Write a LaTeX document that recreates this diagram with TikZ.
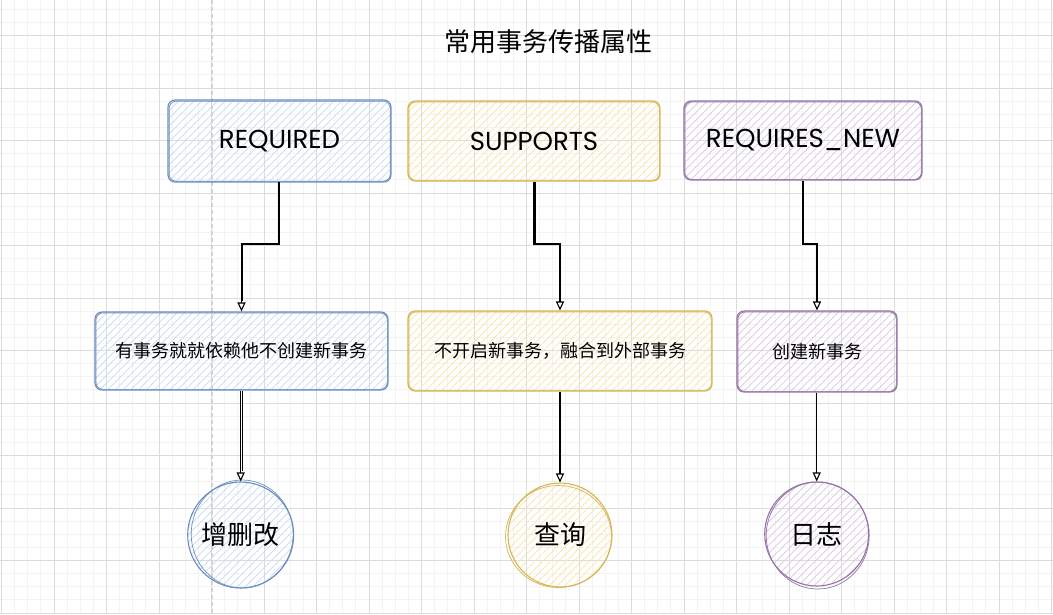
\documentclass[tikz,border=0pt]{standalone}
\usepackage{fontspec}
\setmainfont{Noto Sans CJK SC}
\newfontfamily\hand{Poppins}
\usetikzlibrary{arrows.meta,patterns.meta,calc}
\definecolor{bS}{HTML}{6C8EBF}\definecolor{bF}{HTML}{C6DAF6}
\definecolor{yS}{HTML}{D6B656}\definecolor{yF}{HTML}{FAE5A8}
\definecolor{pS}{HTML}{9673A6}\definecolor{pF}{HTML}{D8C6E2}
\definecolor{gmaj}{HTML}{DCDCDC}\definecolor{gmin}{HTML}{F3F3F3}
\definecolor{dashc}{HTML}{D2D2D2}
\tikzset{
  skbox/.style={rounded corners=7pt, line width=1.1pt, draw=#1S,
    pattern={Lines[angle=45,distance=5.5pt,line width=0.7pt]}, pattern color=#1F},
  skline/.style={rounded corners=7pt, line width=0.7pt, draw=#1S},
  skcirc/.style={circle, line width=1.1pt, draw=#1S, inner sep=0pt,
    pattern={Lines[angle=45,distance=5.5pt,line width=0.7pt]}, pattern color=#1F},
  lbl/.style={font=\fontsize{18}{20}\selectfont, text=black},
  eng/.style={font=\hand\fontsize{26}{28}\selectfont, text=black},
  big/.style={font=\fontsize{26}{28}\selectfont, text=black},
  arr/.style={line width=1.2pt, -{Triangle[open,length=9pt,width=8pt,line width=1.1pt]}},
  arr2/.style={line width=0.6pt},
}
\begin{document}
\begin{tikzpicture}[x=1pt,y=-1pt]
\useasboundingbox (0,0) rectangle (1053,614);
\fill[white] (0,0) rectangle (1053,614);
% grid
\foreach \i in {0,...,80} \draw[gmin, line width=0.9pt] ({1.5+\i*13.125},0) -- ({1.5+\i*13.125},614);
\foreach \i in {0,...,48} \draw[gmin, line width=0.9pt] (0,{-3.875+\i*13.125}) -- (1053,{-3.875+\i*13.125});
\foreach \i in {0,...,20} \draw[gmaj, line width=0.9pt] ({1.5+\i*52.5},0) -- ({1.5+\i*52.5},614);
\foreach \i in {0,...,11} \draw[gmaj, line width=0.9pt] (0,{35.5+\i*52.5}) -- (1053,{35.5+\i*52.5});
\draw[dashc, line width=2pt, dash pattern=on 4pt off 3pt] (212,0) -- (212,614);

% title
\node[big] (title) at (548,42) {常用事务传播属性};

% top boxes
\node[skbox=b, minimum width=223pt, minimum height=82pt, eng] (req) at (279.5,141) {REQUIRED};
\node[skbox=y, minimum width=252pt, minimum height=80pt, eng] (sup) at (534,141) {SUPPORTS};
\node[skbox=p, minimum width=238pt, minimum height=79pt, eng] (new) at (803,140.5) {REQUIRES\_NEW};
% middle boxes
\node[skbox=b, minimum width=293pt, minimum height=78pt, lbl] (m1) at (241.5,351) {有事务就就依赖他不创建新事务};
\node[skbox=y, minimum width=304pt, minimum height=80pt, lbl] (m2) at (560,351) {不开启新事务，融合到外部事务};
\node[skbox=p, minimum width=160pt, minimum height=81pt, lbl] (m3) at (817,351.5) {创建新事务};
% circles
\node[skcirc=b, minimum size=106pt, big] (c1) at (240.7,535) {增删改};
\node[skcirc=y, minimum size=104pt, big] (c2) at (560,535) {查询};
\node[skcirc=p, minimum size=104pt, big] (c3) at (816.7,534) {日志};

% sketchy second strokes
\foreach \n/\c in {req/b,sup/y,new/p,m1/b,m2/y,m3/p}
  \draw[skline=\c] ([shift={(1.5,-1.2)}]\n.south west) rectangle ([shift={(-1.2,1.5)}]\n.north east);
\draw[skline=b] ([shift={(1.5,-1)}]c1.center) circle[x radius=51, y radius=54];
\draw[skline=y] ([shift={(-1.5,1.5)}]c2.center) circle[x radius=53, y radius=51];
\draw[skline=p] ([shift={(1,1.5)}]c3.center) circle[x radius=51.5, y radius=53.5];

% connectors
\coordinate (ym) at (0,244);
\draw[arr] (req.south) -- (req.south |- ym) -| (m1.north);
\draw[arr] (sup.south) -- (sup.south |- ym) -| (m2.north);
\draw[arr] (new.south) -- (new.south |- ym) -| (m3.north);
\draw[arr2] ([xshift=-1.2pt]req.south) -- ([xshift=-1.2pt]req.south |- ym);
\draw[arr2] ([xshift=1.2pt]m1.north |- ym) -- ([xshift=1.2pt,yshift=10pt]m1.north);
\draw[arr2] ([xshift=1pt]sup.south) -- ([xshift=1pt]sup.south |- ym);
\draw[arr2] ([xshift=-1pt]m2.north |- ym) -- ([xshift=-1pt,yshift=10pt]m2.north);
\draw[arr] (m1.south -| c1.north) -- (c1.north);
\draw[arr] (m2.south -| c2.north) -- (c2.north);
\draw[arr] (m3.south -| c3.north) -- (c3.north);
\draw[arr2] ([xshift=1.2pt]m1.south -| c1.north) -- ([xshift=1.2pt,yshift=10pt]c1.north);
\draw[arr2] ([xshift=-1pt]m2.south -| c2.north) -- ([xshift=-1pt,yshift=10pt]c2.north);
\end{tikzpicture}
\end{document}
